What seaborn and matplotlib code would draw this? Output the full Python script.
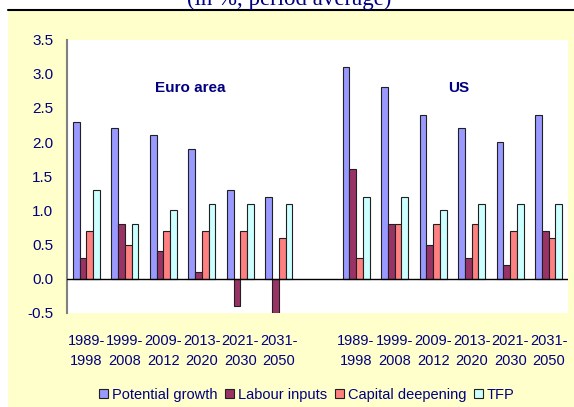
import matplotlib
matplotlib.use("Agg")
import matplotlib.pyplot as plt
import seaborn as sns
import pandas as pd
from matplotlib.patches import Rectangle, Patch
from matplotlib.lines import Line2D

periods = ["1989-\n1998", "1999-\n2008", "2009-\n2012", "2013-\n2020", "2021-\n2030", "2031-\n2050"]
series = ["Potential growth", "Labour inputs", "Capital deepening", "TFP"]
colors = ["#9999FF", "#993366", "#FF8080", "#CCFFFF"]

ea_potential = [2.3, 2.2, 2.1, 1.9, 1.3, 1.2]
ea_labour = [0.3, 0.8, 0.4, 0.1, -0.4, -0.5]
ea_capital = [0.7, 0.5, 0.7, 0.7, 0.7, 0.6]
ea_tfp = [1.3, 0.8, 1.0, 1.1, 1.1, 1.1]

us_potential = [3.1, 2.8, 2.4, 2.2, 2.0, 2.4]
us_labour = [1.6, 0.8, 0.5, 0.3, 0.2, 0.7]
us_capital = [0.3, 0.8, 0.8, 0.8, 0.7, 0.6]
us_tfp = [1.2, 1.2, 1.0, 1.1, 1.1, 1.1]

yticks = [-0.5, 0.0, 0.5, 1.0, 1.5, 2.0, 2.5, 3.0, 3.5]

rows = []
for region, vals in (("EA", [ea_potential, ea_labour, ea_capital, ea_tfp]),
                     ("US", [us_potential, us_labour, us_capital, us_tfp])):
    for s, v in zip(series, vals):
        for p, x in zip(periods, v):
            rows.append({"cat": f"{region} {p}", "series": s, "value": x})
df = pd.DataFrame(rows)
order = [f"EA {p}" for p in periods] + ["gap"] + [f"US {p}" for p in periods]

sns.set_style("white")
fam = ["Liberation Sans", "DejaVu Sans"]
plt.rcParams["font.family"] = fam
navy = "#000080"

fig = plt.figure(figsize=(5.74, 4.07), dpi=100)
fig.patch.set_facecolor("white")
bg = Rectangle((8 / 574, 0), 1 - 8 / 574, 1 - 10.5 / 407,
               transform=fig.transFigure, facecolor="#FFFFCC",
               edgecolor="none", zorder=-10)
fig.add_artist(bg)
fig.add_artist(Line2D([8 / 574, 1], [1 - 10 / 407, 1 - 10 / 407],
                      transform=fig.transFigure, color="black", lw=1.5, zorder=-5))
fig.text(289 / 574, 1 - 5 / 407, "(in %, period average)", ha="center", va="baseline",
         fontsize=16.5, color=navy, family=["Liberation Serif", "DejaVu Serif"])

ax = fig.add_axes([67 / 574, 1 - 313 / 407, (568 - 67) / 574, (313 - 39.5) / 407])
ax.set_zorder(5)
ax.set_facecolor("white")
sns.barplot(data=df, x="cat", y="value", hue="series", order=order, hue_order=series,
            palette=colors, width=0.7, gap=0, errorbar=None, ax=ax,
            edgecolor="#202020", linewidth=0.8, saturation=1, legend=False)

ax.set_ylim(-0.5, 3.5)
ax.set_xlim(-0.5, len(order) - 0.5)
ax.set_yticks(yticks)
ax.set_yticklabels([f"{t:.1f}" for t in yticks])
ax.set_xticks(range(len(order)))
ax.set_xticklabels(periods + [""] + periods, linespacing=1.55)
ax.tick_params(axis="both", length=0, labelcolor=navy)
ax.tick_params(axis="y", pad=10, labelsize=11)
ax.tick_params(axis="x", pad=15, labelsize=10.5)
ax.set_xlabel("")
ax.set_ylabel("")
for s in ("top", "right", "bottom"):
    ax.spines[s].set_visible(False)
ax.spines["left"].set_color("#808080")
ax.spines["left"].set_linewidth(1.5)
ax.axhline(0, color="black", lw=1, zorder=3)

ax.text(0.2455, 0.823, "Euro area", transform=ax.transAxes, ha="center", va="center",
        fontsize=11, fontweight="bold", color=navy)
ax.text(0.782, 0.823, "US", transform=ax.transAxes, ha="center", va="center",
        fontsize=11, fontweight="bold", color=navy)

handles = [Patch(facecolor=c, edgecolor="#202020", linewidth=0.8, label=s)
           for c, s in zip(colors, series)]
fig.legend(handles=handles, loc="center", bbox_to_anchor=(307 / 574, 1 - 395 / 407),
           ncol=4, frameon=False, fontsize=10.5, labelcolor=navy,
           handlelength=0.6, handleheight=0.6, handletextpad=0.3,
           columnspacing=0.5, borderpad=0)

fig.savefig("out.png", dpi=100, facecolor=fig.get_facecolor())
